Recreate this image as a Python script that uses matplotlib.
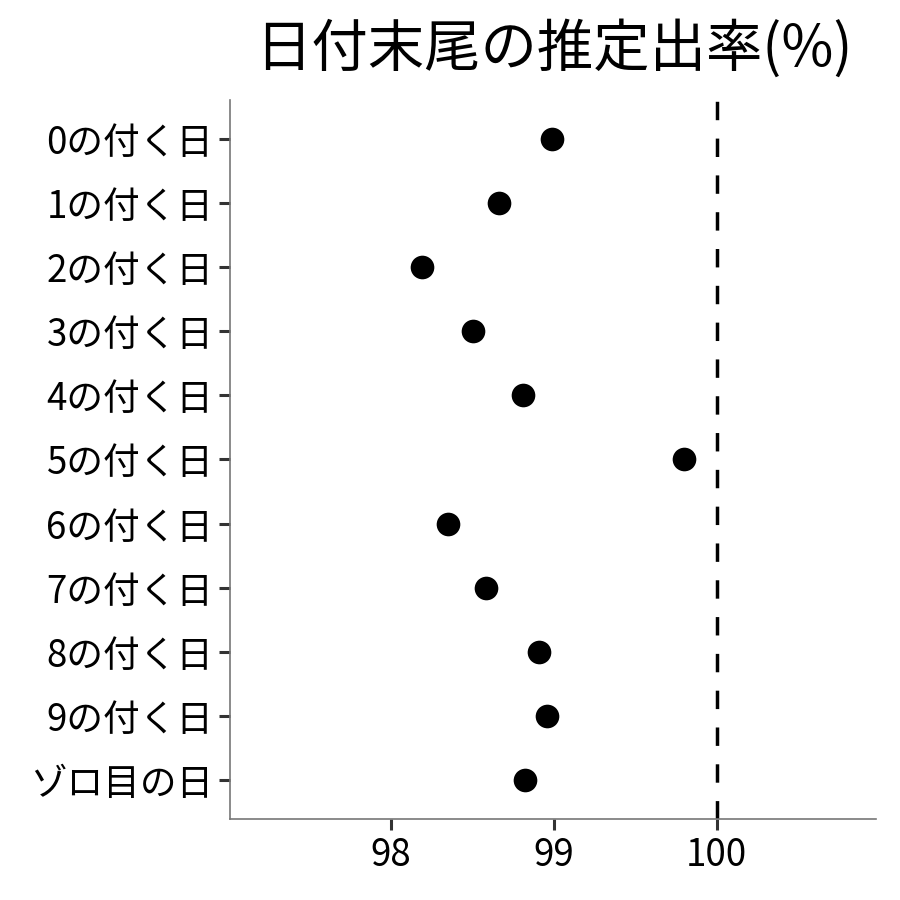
import matplotlib
matplotlib.use('Agg')
from matplotlib import pyplot as plt

plt.rcParams['font.family'] = ['Noto Sans CJK JP', 'DejaVu Sans']

# data
categories = ['0の付く日', '1の付く日', '2の付く日', '3の付く日', '4の付く日',
              '5の付く日', '6の付く日', '7の付く日', '8の付く日', '9の付く日',
              'ゾロ目の日']
rates = [98.99, 98.66, 98.19, 98.50, 98.81, 99.80, 98.35, 98.58, 98.91, 98.96, 98.82]
xTicks = [98, 99, 100]
referenceRate = 100

figure = plt.figure(figsize=(9, 9), dpi=100)
axis = figure.add_axes([0.2556, 0.09, 0.7178, 0.7989])

positions = list(range(len(categories)))[::-1]
axis.scatter(rates, positions, s=290, color='black', zorder=3, linewidths=0)
axis.axvline(referenceRate, color='black', linewidth=2.5, linestyle=(0, (5.3, 5.3)), zorder=2)

axis.set_xlim(97.01, 100.98)
axis.set_ylim(-0.6, len(categories) - 0.4)
axis.set_yticks(positions)
axis.set_yticklabels(categories)
axis.set_xticks(xTicks)
axis.set_xticklabels([str(t) for t in xTicks])

for side in ('top', 'right'):
    axis.spines[side].set_visible(False)
for side in ('left', 'bottom'):
    axis.spines[side].set_color('#777777')
    axis.spines[side].set_linewidth(1.2)

axis.tick_params(axis='both', colors='#333333', width=2.2, length=8, labelsize=26.4,
                 labelcolor='black', pad=4)

figure.text(0.615, 0.945, '日付末尾の推定出率(%)', fontsize=40.6, ha='center', va='center')

plt.savefig('out.png', dpi=100)
